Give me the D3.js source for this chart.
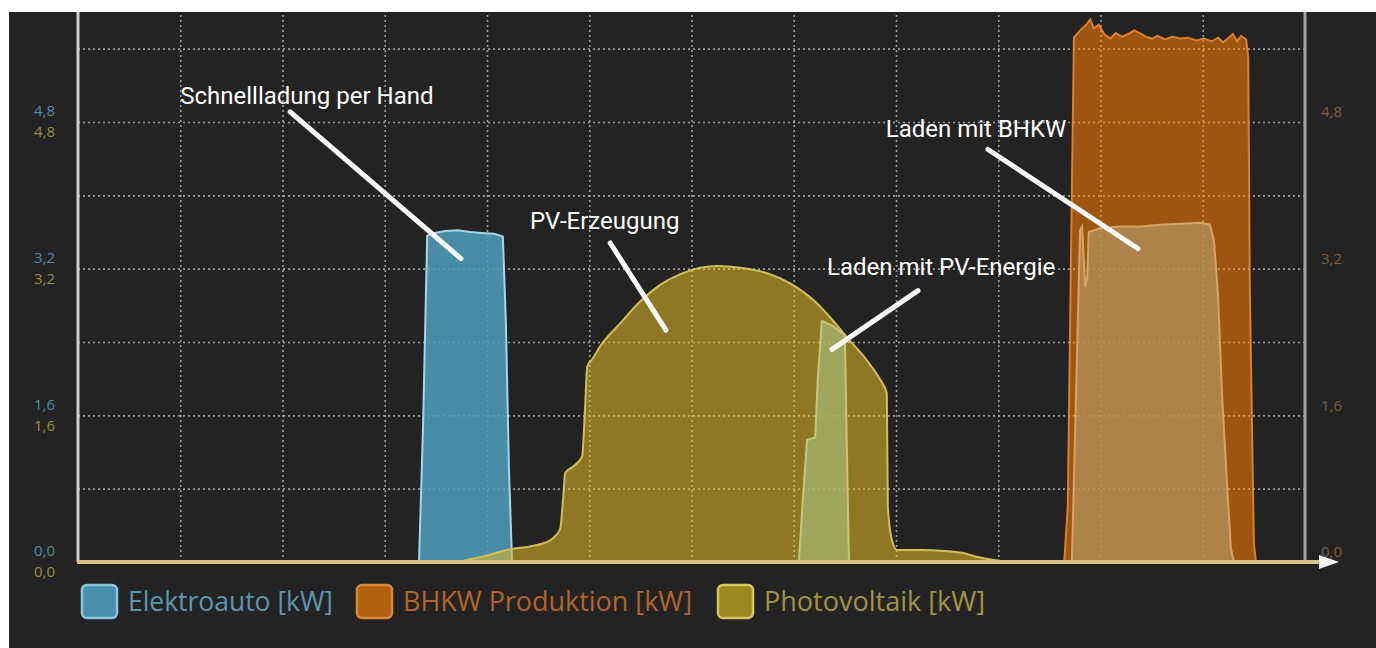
<!DOCTYPE html>
<html>
<head>
<meta charset="utf-8">
<script src="https://cdn.jsdelivr.net/npm/d3@7"></script>
<style>
  html, body { margin: 0; padding: 0; background: #ffffff; }
  svg { display: block; }
</style>
</head>
<body>
<div id="chart"></div>
<script>
// time of day in hours, power in kW
var autoTime = [0, 6.67, 6.75, 6.83, 6.98, 7.18, 7.43, 7.67, 7.90, 8.14,
	8.31, 8.37, 8.43, 8.49, 14.10, 14.18, 14.26, 14.42, 14.47, 14.55,
	14.75, 14.94, 15.00, 15.04, 15.08, 19.44, 19.52, 19.60, 19.64, 19.70,
	19.74, 19.77, 19.99, 20.38, 20.77, 21.16, 21.56, 21.95, 22.14, 22.22,
	22.30, 22.38, 22.47, 22.55, 22.61, 24];
var autoKW = [0, 0, 1.5, 3.56, 3.59, 3.61, 3.62, 3.6, 3.59, 3.58,
	3.55, 2.6, 1.0, 0, 0, 0.7, 1.33, 1.36, 2.0, 2.63,
	2.58, 2.5, 2.48, 1.2, 0, 0, 1.8, 3.62, 3.66, 3.0,
	3.1, 3.6, 3.64, 3.66, 3.66, 3.68, 3.69, 3.70, 3.68, 3.5,
	2.9, 1.8, 0.9, 0.15, 0, 0];

var pvTime = [0, 7.37, 7.67, 8.06, 8.45, 8.84, 9.13, 9.29, 9.43, 9.49,
	9.53, 9.68, 9.86, 9.92, 9.96, 10.07, 10.21, 10.60, 10.99, 11.38,
	11.78, 12.17, 12.50, 12.95, 13.48, 13.93, 14.38, 14.71, 15.04, 15.43,
	15.69, 15.82, 15.84, 15.92, 16.02, 16.47, 16.96, 17.29, 17.55, 17.94,
	18.33, 24];
var pvKW = [0, 0, 0.03, 0.08, 0.14, 0.17, 0.21, 0.26, 0.36, 0.7,
	0.97, 1.04, 1.15, 1.7, 2.13, 2.22, 2.35, 2.6, 2.84, 3.02,
	3.14, 3.21, 3.23, 3.21, 3.15, 3.04, 2.86, 2.67, 2.45, 2.2,
	1.99, 1.84, 0.6, 0.24, 0.13, 0.13, 0.12, 0.1, 0.06, 0.02,
	0, 0];

var bhkwTime = [0, 19.29, 19.36, 19.42, 19.48, 19.60, 19.72, 19.80, 19.87, 19.97,
	20.07, 20.19, 20.30, 20.42, 20.54, 20.66, 20.77, 20.89, 21.01, 21.12,
	21.26, 21.40, 21.56, 21.71, 21.87, 22.02, 22.18, 22.30, 22.40, 22.49,
	22.59, 22.67, 22.75, 22.85, 22.89, 22.92, 23.00, 23.04, 24];
var bhkwKW = [0, 0, 0.6, 3.2, 5.72, 5.8, 5.86, 5.92, 5.82, 5.86,
	5.76, 5.71, 5.77, 5.73, 5.76, 5.8, 5.77, 5.73, 5.71, 5.74,
	5.70, 5.73, 5.71, 5.72, 5.69, 5.71, 5.68, 5.72, 5.67, 5.71,
	5.76, 5.68, 5.74, 5.70, 5.5, 3.0, 0.2, 0, 0];

var gridValues = [0.8, 1.6, 2.4, 3.2, 4.0, 4.8, 5.6];
var tickValues = [0, 1.6, 3.2, 4.8];
var hourGrid = [2, 4, 6, 8, 10, 12, 14, 16, 18, 20, 22];
var legendLabels = ['Elektroauto [kW]', 'BHKW Produktion [kW]', 'Photovoltaik [kW]'];
var noteTexts = ['Schnellladung per Hand', 'PV-Erzeugung', 'Laden mit PV-Energie', 'Laden mit BHKW'];

var W = 1376, H = 648;
var margin = { left: 78, right: 71, top: 12, bottom: 86 };
var width = W - margin.left - margin.right,
	height = H - margin.top - margin.bottom;

var de = d3.formatLocale({ decimal: ',', thousands: '.', grouping: [3], currency: ['', ' €'] });
var fmt = de.format('.1f');

var svg = d3.select('#chart').append('svg')
	.attr('width', W)
	.attr('height', H);

// dark panel (white strip left/top like the screenshot)
svg.append('rect')
	.attr('x', 9).attr('y', 12)
	.attr('width', W - 9).attr('height', H - 12)
	.attr('fill', '#232323');

var chart = svg.append('g')
	.attr('transform', 'translate(' + margin.left + ',' + margin.top + ')');

var x = d3.scaleLinear().domain([0, 24]).range([0, width]);
var y = d3.scaleLinear().domain([0, 6]).range([height, 0]);

function styleGrid(g, color, op) {
	g.select('.domain').remove();
	g.selectAll('.tick line')
		.attr('stroke', color)
		.attr('stroke-opacity', op)
		.attr('stroke-width', 1.6)
		.attr('stroke-dasharray', '2,3');
}

function drawGrid(color, op) {
	chart.append('g')
		.call(d3.axisLeft(y).tickValues(gridValues).tickSize(-width).tickFormat(''))
		.call(styleGrid, color, op);
	chart.append('g')
		.attr('transform', 'translate(0,' + height + ')')
		.call(d3.axisBottom(x).tickValues(hourGrid).tickSize(-height).tickFormat(''))
		.call(styleGrid, color, op);
}

drawGrid('#8c8c8c', 1);

// areas
var area = d3.area()
	.x(function (d) { return x(d[0]); })
	.y0(y(0))
	.y1(function (d) { return y(d[1]); });
var smoothArea = d3.area()
	.curve(d3.curveMonotoneX)
	.x(function (d) { return x(d[0]); })
	.y0(y(0))
	.y1(function (d) { return y(d[1]); });

function pairs(t, v) {
	return t.map(function (h, i) { return [h, v[i]]; });
}

chart.append('path')
	.datum(pairs(autoTime, autoKW))
	.attr('d', area)
	.attr('fill', '#488ca6')
	.attr('stroke', '#a2d6ea')
	.attr('stroke-width', 2);

chart.append('path')
	.datum(pairs(bhkwTime, bhkwKW))
	.attr('d', area)
	.attr('fill', 'rgb(255,124,0)')
	.attr('fill-opacity', 0.56)
	.attr('stroke', '#d98030')
	.attr('stroke-width', 2);

chart.append('path')
	.datum(pairs(pvTime, pvKW))
	.attr('d', smoothArea)
	.attr('fill', 'rgb(226,187,36)')
	.attr('fill-opacity', 0.56)
	.attr('stroke', '#d2bd5c')
	.attr('stroke-width', 2);

// faint grid seen through the areas
drawGrid('#ffffff', 0.14);

// axis lines
chart.append('line')
	.attr('x1', 0).attr('x2', 0).attr('y1', 0).attr('y2', height)
	.attr('stroke', '#cfcfcf').attr('stroke-width', 3);
chart.append('line')
	.attr('x1', width).attr('x2', width).attr('y1', 0).attr('y2', height)
	.attr('stroke', '#a3a3a3').attr('stroke-width', 3);
chart.append('line')
	.attr('x1', -1).attr('x2', width + 18).attr('y1', height).attr('y2', height)
	.attr('stroke', '#d6c384').attr('stroke-width', 4);
chart.append('path')
	.attr('d', 'M' + (width + 14) + ',' + (height - 7) + 'L' + (width + 34) + ',' + height + 'L' + (width + 14) + ',' + (height + 7) + 'Z')
	.attr('fill', '#f4f4f4');

// tick labels
var ticks = chart.append('g').style('font-family', '"Open Sans", sans-serif').style('font-size', '15px');
tickValues.forEach(function (t) {
	ticks.append('text')
		.attr('x', -23).attr('y', y(t) - 11)
		.attr('dy', '0.35em')
		.attr('text-anchor', 'end')
		.attr('fill', '#4f8aa4')
		.text(fmt(t));
	ticks.append('text')
		.attr('x', -23).attr('y', y(t) + 10)
		.attr('dy', '0.35em')
		.attr('text-anchor', 'end')
		.attr('fill', '#9c8a42')
		.text(fmt(t));
	ticks.append('text')
		.attr('x', width + 16).attr('y', y(t) - 10)
		.attr('dy', '0.35em')
		.attr('text-anchor', 'start')
		.attr('fill', '#7d5d38')
		.text(fmt(t));
});

// legend
var legendX = [82, 357, 718];
var legendW = [205, 289, 221];
var boxFill = ['#4a8fac', '#b0600e', '#9a881f'];
var boxStroke = ['#8cc6de', '#d8893a', '#d8c562'];
var textFill = ['#5f95ae', '#b0652a', '#a09442'];
var legend = svg.append('g');
legendLabels.forEach(function (lab, i) {
	legend.append('rect')
		.attr('x', legendX[i]).attr('y', 585)
		.attr('width', 35).attr('height', 33)
		.attr('rx', 5)
		.attr('fill', boxFill[i])
		.attr('stroke', boxStroke[i])
		.attr('stroke-width', 2.5);
	legend.append('text')
		.attr('x', legendX[i] + 46).attr('y', 611)
		.attr('fill', textFill[i])
		.style('font-family', '"Open Sans", sans-serif')
		.style('font-size', '27px')
		.attr('textLength', legendW[i])
		.attr('lengthAdjust', 'spacingAndGlyphs')
		.text(lab);
});

// annotations: text anchor and leader line in data units (hour, kW)
var notes = [
	{ tx: 2.0, ty: 5.0, x1: 4.15, y1: 4.91, x2: 7.49, y2: 3.31 },
	{ tx: 8.84, ty: 3.63, x1: 10.41, y1: 3.48, x2: 11.5, y2: 2.53 },
	{ tx: 14.65, ty: 3.13, x1: 16.43, y1: 2.96, x2: 14.75, y2: 2.32 },
	{ tx: 15.8, ty: 4.64, x1: 17.8, y1: 4.5, x2: 20.73, y2: 3.42 }
];
var ann = chart.append('g');
notes.forEach(function (n, i) {
	ann.append('line')
		.attr('x1', x(n.x1)).attr('y1', y(n.y1))
		.attr('x2', x(n.x2)).attr('y2', y(n.y2))
		.attr('stroke', '#ffffff')
		.attr('stroke-width', 5)
		.attr('stroke-linecap', 'round');
	ann.append('text')
		.attr('x', x(n.tx)).attr('y', y(n.ty))
		.attr('fill', '#ffffff')
		.style('font-family', 'Roboto, sans-serif')
		.style('font-size', '24px')
		.text(noteTexts[i]);
});
</script>
</body>
</html>
